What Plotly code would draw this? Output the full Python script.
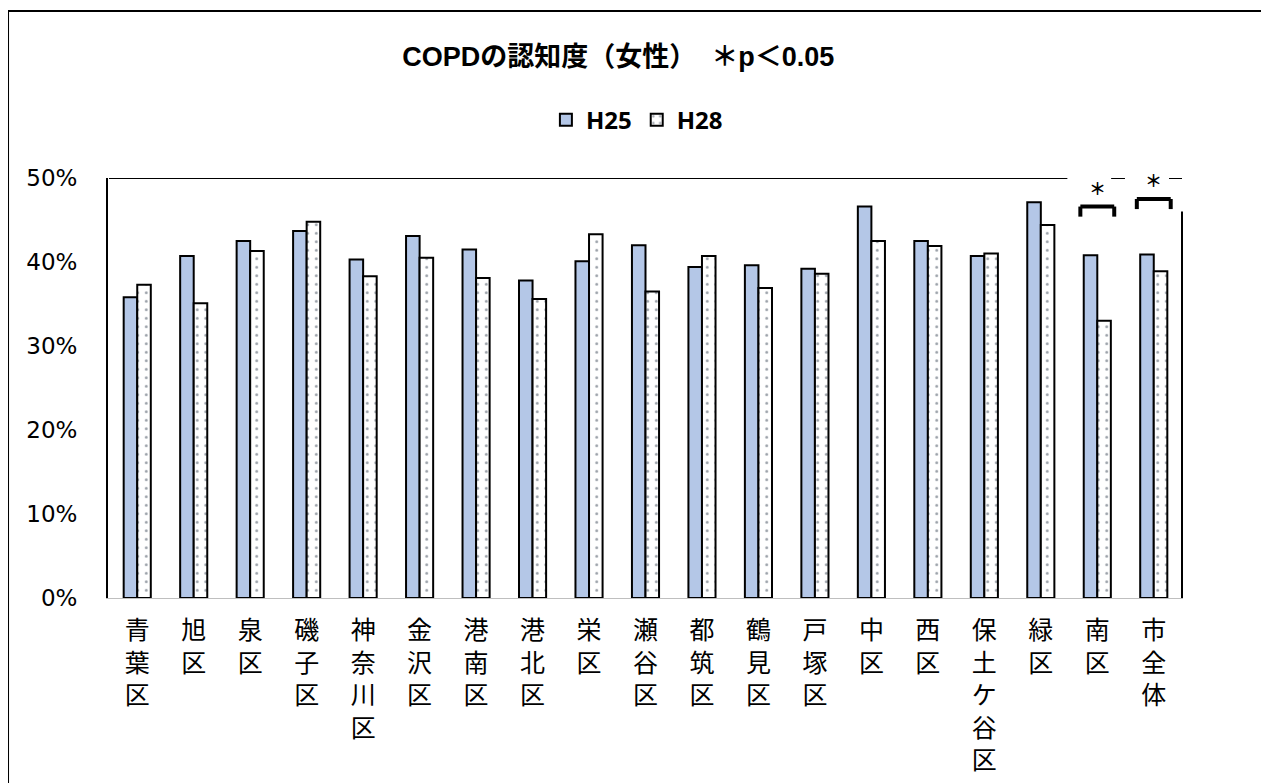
import plotly.graph_objects as go

# 区別 COPD の認知度（女性）, %
districts = ["青葉区", "旭区", "泉区", "磯子区", "神奈川区", "金沢区", "港南区", "港北区", "栄区",
             "瀬谷区", "都筑区", "鶴見区", "戸塚区", "中区", "西区", "保土ケ谷区", "緑区", "南区", "市全体"]
h25 = [35.8, 40.7, 42.5, 43.7, 40.3, 43.1, 41.5, 37.8, 40.1, 42.0,
       39.4, 39.6, 39.2, 46.6, 42.5, 40.7, 47.1, 40.8, 40.9]
h28 = [37.3, 35.1, 41.3, 44.8, 38.3, 40.5, 38.1, 35.6, 43.3, 36.5,
       40.7, 36.9, 38.6, 42.5, 41.9, 41.0, 44.4, 33.0, 38.9]
significant = ["南区", "市全体"]
bracket_top = [46.6, 47.5]
star_y = [48.9, 49.8]
y_ticks = [0, 10, 20, 30, 40, 50]
y_tick_text = ["0%", "10%", "20%", "30%", "40%", "50%"]

# 縦書き風ラベル
labels = ["<br>".join(list(d)) for d in districts]

fig = go.Figure()
fig.add_trace(go.Bar(
    x=labels, y=h25, name="<b>H25</b>",
    marker=dict(color="#B4C7E7", line=dict(color="black", width=2)),
))
fig.add_trace(go.Bar(
    x=labels, y=h28, name="<b>H28</b>",
    marker=dict(color="white", line=dict(color="black", width=2),
                pattern=dict(shape=".", fgcolor="#333F50", bgcolor="white",
                             size=8.5, solidity=0.09)),
))

shapes = []
# 外枠
shapes.append(dict(type="rect", xref="paper", yref="paper", x0=-0.093, x1=1.078,
                   y0=-0.6, y1=1.3976, line=dict(color="black", width=2),
                   fillcolor="rgba(0,0,0,0)", layer="below"))
# 上辺（有意差マークで途切れる）と右辺
for xa, xb in [(-0.5, 16.47), (17.245, 17.49), (18.27, 18.5)]:
    shapes.append(dict(type="line", xref="x", yref="y", x0=xa, x1=xb, y0=50, y1=50,
                       line=dict(color="black", width=2)))
shapes.append(dict(type="line", xref="x", yref="y", x0=18.5, x1=18.5, y0=0, y1=46.0,
                   line=dict(color="black", width=2)))

annotations = []
for name, top, sy in zip(significant, bracket_top, star_y):
    i = districts.index(name)
    for seg in [(i - 0.3, top, i + 0.3, top), (i - 0.3, top, i - 0.3, top - 1.2),
                (i + 0.3, top, i + 0.3, top - 1.2)]:
        shapes.append(dict(type="line", xref="x", yref="y", x0=seg[0], y0=seg[1],
                           x1=seg[2], y1=seg[3], line=dict(color="black", width=4)))
    annotations.append(dict(x=i, y=sy, xref="x", yref="y", text="<b>＊</b>", showarrow=False,
                            font=dict(family="Noto Sans CJK JP", size=17, color="black")))

fig.update_layout(
    width=1261, height=775,
    margin=dict(l=100, r=86, t=170, b=185),
    paper_bgcolor="white", plot_bgcolor="white",
    title=dict(text="<b>COPDの認知度（女性）  ＊p＜0.05</b>", x=0.484, xanchor="center",
               y=0.937, yanchor="middle",
               font=dict(family="Liberation Sans, Noto Sans CJK JP", size=27, color="black")),
    legend=dict(orientation="h", x=0.492, xanchor="center", y=1.138, yanchor="middle",
                font=dict(family="Noto Sans", size=24, color="black"), itemclick=False),
    barmode="group", bargap=0.52, bargroupgap=0,
    font=dict(family="Noto Sans CJK JP", color="black"),
    shapes=shapes, annotations=annotations,
)
fig.update_xaxes(showline=True, linecolor="#BFBFBF", linewidth=1, showgrid=False,
                 tickangle=0, ticks="", ticklabelstandoff=10, automargin=False,
                 tickfont=dict(family="Noto Sans CJK JP", size=25, color="black"))
fig.update_yaxes(range=[0, 50], tickvals=y_ticks, ticktext=y_tick_text, showgrid=False,
                 showline=True, linecolor="black", linewidth=2, ticks="",
                 ticklabelstandoff=24, zeroline=False, automargin=False,
                 tickfont=dict(family="DejaVu Sans", size=23, color="black"))

fig.write_html("out.html")
